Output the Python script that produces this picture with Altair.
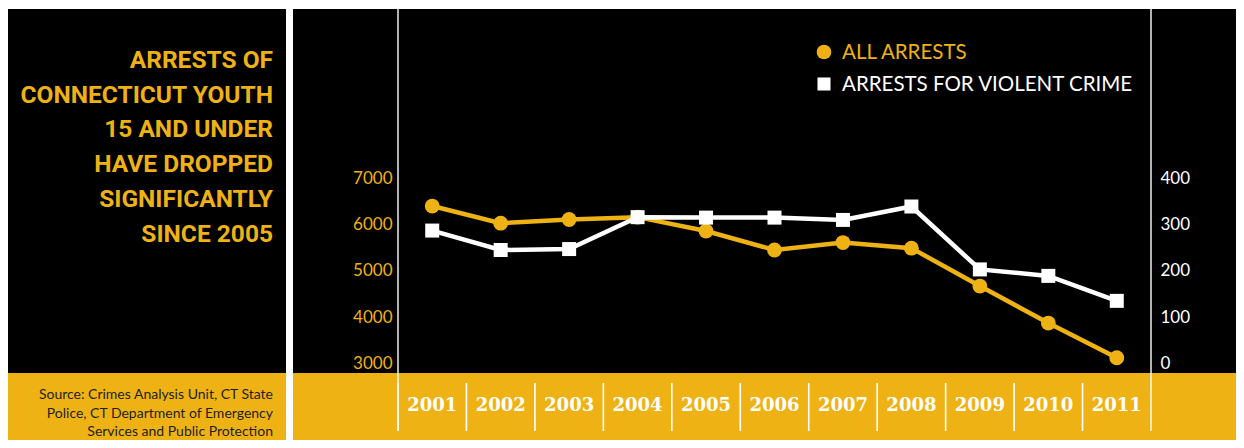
import altair as alt
import pandas as pd

# ---------------- data ----------------
years = ["2001", "2002", "2003", "2004", "2005", "2006", "2007", "2008", "2009", "2010", "2011"]
all_arrests = [6400, 6030, 6110, 6160, 5860, 5450, 5610, 5490, 4670, 3870, 3120]
violent_arrests = [287, 245, 247, 316, 315, 315, 310, 339, 203, 189, 135]
left_ticks = [3000, 4000, 5000, 6000, 7000]
right_ticks = [0, 100, 200, 300, 400]
title_lines = ["ARRESTS OF", "CONNECTICUT YOUTH", "15 AND UNDER", "HAVE DROPPED", "SIGNIFICANTLY", "SINCE 2005"]
source_lines = ["Source: Crimes Analysis Unit, CT State",
                "Police, CT Department of Emergency",
                "Services and Public Protection"]
legend_labels = ["ALL ARRESTS", "ARRESTS FOR VIOLENT CRIME"]

# ---------------- styling ----------------
GOLD = "#EFB215"
BLACK = "#000000"
WHITE = "#FFFFFF"
DARK = "#231F20"
W, H = 1228, 432
COND = "Roboto"
SANS = "Lato"
SERIF = "DejaVu Serif"

df = pd.DataFrame({"year": years, "all": all_arrests, "violent": violent_arrests})
yr = pd.DataFrame({"year": years})
first = pd.DataFrame({"year": [years[0]]})
last = pd.DataFrame({"year": [years[-1]]})
one = pd.DataFrame({"a": [0]})

xscale = alt.Scale(type="band", domain=years, range=[390, 1143], paddingInner=0, paddingOuter=0)
xaxis = alt.Axis(orient="bottom", offset=-(H - 397), domain=False, ticks=False, grid=False,
                 labelPadding=0, labelBaseline="middle", labelAngle=0,
                 labelFont=SERIF, labelFontSize=18, labelFontWeight="bold",
                 labelColor=WHITE, title=None, zindex=2)
xenc = alt.X("year:O", scale=xscale, axis=xaxis)


def rect(x1, x2, y1, y2, c):
    return alt.Chart(one).mark_rect(color=c).encode(
        x=alt.value(x1), x2=alt.value(x2), y=alt.value(y1), y2=alt.value(y2))


bgs = [rect(0, 278, 1, 365, BLACK), rect(0, 278, 365, H, GOLD),
       rect(285, W, 1, 365, BLACK), rect(285, W, 365, H, GOLD)]

# separators between years
seps = alt.Chart(yr).mark_rule(color=WHITE, strokeWidth=1.6).encode(
    x=alt.X("year:O", scale=xscale, bandPosition=0, axis=xaxis),
    y=alt.value(375), y2=alt.value(423))
edge_l = alt.Chart(first).mark_rule(color=WHITE, strokeWidth=1.4).encode(
    x=alt.X("year:O", scale=xscale, bandPosition=0, axis=xaxis),
    y=alt.value(1), y2=alt.value(423))
edge_r = alt.Chart(last).mark_rule(color=WHITE, strokeWidth=1.4).encode(
    x=alt.X("year:O", scale=xscale, bandPosition=1, axis=xaxis),
    y=alt.value(1), y2=alt.value(423))

# series
yleft = alt.Y("all:Q", scale=alt.Scale(domain=[3000, 7000], range=[355.3, 170.3], nice=False, zero=False),
              axis=alt.Axis(orient="left", values=left_ticks, format="d", offset=-386, labelPadding=2,
                            domain=False, ticks=False, grid=False, labelColor=GOLD,
                            labelFont=SANS, labelFontSize=17, title=None, zindex=2))
yright = alt.Y("violent:Q", scale=alt.Scale(domain=[0, 400], range=[355.3, 170.3], nice=False, zero=False),
               axis=alt.Axis(orient="right", values=right_ticks, format="d", offset=-(W - 1152), labelPadding=0,
                             domain=False, ticks=False, grid=False, labelColor=WHITE,
                             labelFont=SANS, labelFontSize=17, title=None, zindex=2))

gold = alt.layer(
    alt.Chart(df).mark_line(color=GOLD, strokeWidth=4.5).encode(x=xenc, y=yleft),
    alt.Chart(df).mark_circle(color=GOLD, size=220, opacity=1).encode(x=xenc, y=yleft),
)
white = alt.layer(
    alt.Chart(df).mark_line(color=WHITE, strokeWidth=4.5).encode(x=xenc, y=yright),
    alt.Chart(df).mark_square(color=WHITE, size=196, opacity=1).encode(x=xenc, y=yright),
)

# legend
leg_c = alt.Chart(one).mark_circle(color=GOLD, size=215, opacity=1).encode(x=alt.value(816), y=alt.value(44))
leg_s = alt.Chart(one).mark_square(color=WHITE, size=170, opacity=1).encode(x=alt.value(816), y=alt.value(76))
leg_t1 = alt.Chart(one).mark_text(align="left", baseline="middle", font=SANS, fontSize=20.5, color=GOLD).encode(
    x=alt.value(834), y=alt.value(45), text=alt.value(legend_labels[0]))
leg_t2 = alt.Chart(one).mark_text(align="left", baseline="middle", font=SANS, fontSize=20.5, color=WHITE).encode(
    x=alt.value(834), y=alt.value(77), text=alt.value(legend_labels[1]))

# title and source
title = alt.Chart(one).mark_text(align="right", baseline="alphabetic", font=COND, fontSize=24.5,
                                 fontWeight="bold", color=GOLD, lineHeight=34.7).encode(
    x=alt.value(265), y=alt.value(60), text=alt.value(title_lines))
source = alt.Chart(one).mark_text(align="right", baseline="alphabetic", font=SANS, fontSize=14,
                                  color=DARK, lineHeight=18.5).encode(
    x=alt.value(265), y=alt.value(391), text=alt.value(source_lines))

chart = alt.layer(
    *bgs, seps, edge_l, edge_r, gold, white, leg_c, leg_s, leg_t1, leg_t2, title, source
).resolve_scale(y="independent").properties(
    width=W, height=H, autosize=alt.AutoSizeParams(type="none"), padding=0, background=WHITE
).configure_view(stroke=None)

chart.save("out.html", embed_options={"renderer": "svg", "actions": False})
